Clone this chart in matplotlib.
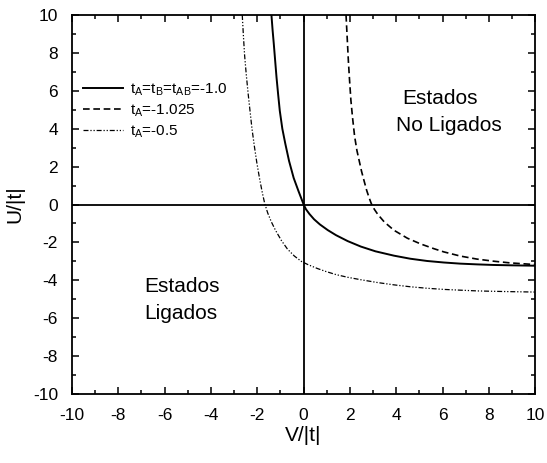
import matplotlib
matplotlib.use("Agg")
import matplotlib.pyplot as plt

plt.rcParams['font.family'] = ['Liberation Sans', 'DejaVu Sans']
plt.rcParams['mathtext.fontset'] = 'custom'
plt.rcParams['mathtext.rm'] = 'Liberation Sans'
plt.rcParams['mathtext.it'] = 'Liberation Sans'
plt.rcParams['axes.unicode_minus'] = False

# === curves ===
v_solid = [-1.39, -1.34, -1.29, -1.23, -1.17, -1.10, -1.03, -0.92, -0.79, -0.63,
           -0.43, -0.22, 0.0, 0.1, 0.25, 0.45, 0.7, 1.04, 1.4, 1.9, 2.47, 3.1,
           3.9, 4.6, 5.33, 6.05, 6.76, 7.5, 8.19, 9.0, 10.0]
u_solid = [10.0, 9.2, 8.5, 7.6, 6.7, 5.8, 4.95, 4.0, 3.2, 2.3,
           1.4, 0.7, 0.0, -0.25, -0.5, -0.78, -1.05, -1.35, -1.62, -1.93, -2.22, -2.47,
           -2.7, -2.86, -2.98, -3.06, -3.12, -3.16, -3.19, -3.21, -3.23]

v_dash = [1.83, 1.88, 1.93, 1.98, 2.04, 2.11, 2.2, 2.3, 2.4, 2.5, 2.62, 2.72,
          2.82, 2.92, 3.05, 3.2, 3.48, 3.9, 4.48, 5.05, 5.62, 6.05, 6.76, 7.48,
          8.19, 8.9, 10.0]
u_dash = [10.0, 8.8, 7.6, 6.6, 5.5, 4.6, 3.6, 2.85, 2.3, 1.75, 1.2, 0.75,
          0.38, 0.05, -0.25, -0.52, -0.92, -1.36, -1.78, -2.08, -2.33, -2.5, -2.72, -2.88,
          -2.99, -3.08, -3.17]

v_dd = [-2.65, -2.6, -2.55, -2.48, -2.4, -2.32, -2.23, -2.13, -2.02, -1.9, -1.78,
        -1.68, -1.55, -1.4, -1.22, -0.96, -0.7, -0.4, -0.1, 0.2, 0.6, 0.95, 1.4,
        1.9, 2.47, 3.2, 3.9, 4.6, 5.33, 6.05, 6.76, 7.5, 8.19, 9.0, 10.0]
u_dd = [10.0, 8.9, 7.9, 6.9, 5.9, 5.0, 4.0, 3.1, 2.2, 1.35, 0.6,
        0.05, -0.45, -0.9, -1.35, -1.9, -2.35, -2.72, -3.0, -3.18, -3.38, -3.53, -3.7,
        -3.84, -3.97, -4.12, -4.24, -4.34, -4.42, -4.48, -4.52, -4.56, -4.58, -4.6, -4.62]

labels = [r'$\mathrm{t_A}$=$\mathrm{t_B}$=$\mathrm{t_{AB}}$=-1.0',
          r'$\mathrm{t_A}$=-1.025',
          r'$\mathrm{t_A}$=-0.5']

fig = plt.figure(figsize=(5.47, 4.63), dpi=100)
ax = fig.add_axes([0.1316, 0.149, 0.847, 0.8186])

ax.plot(v_solid, u_solid, color='black', lw=1.4, label=labels[0])
ax.plot(v_dash, u_dash, color='black', lw=1.2, ls=(0, (4, 2.2)), label=labels[1])
ax.plot(v_dd, u_dd, color='black', lw=0.9, ls=(0, (4, 1.5, 1, 1.5, 1, 1.5)), label=labels[2])

ax.axhline(0, color='black', lw=1.3)
ax.axvline(0, color='black', lw=1.3)

ax.set_xlim(-10, 10)
ax.set_ylim(-10, 10)
ax.set_xticks(range(-10, 11, 2))
ax.set_yticks(range(-10, 11, 2))
ax.set_xticks(range(-9, 10, 2), minor=True)
ax.set_yticks(range(-9, 10, 2), minor=True)
ax.tick_params(which='both', direction='in', top=True, right=True, width=1.1)
ax.tick_params(which='major', length=5, labelsize=12.5, pad=10)
ax.tick_params(which='minor', length=3)
for s in ax.spines.values():
    s.set_linewidth(1.3)

ax.set_xlabel('V/|t|', fontsize=15, labelpad=2)
ax.set_ylabel('U/|t|', fontsize=15, labelpad=6)

ax.text(5.9, 5.58, 'Estados', fontsize=15, ha='center', va='center')
ax.text(6.28, 4.18, 'No Ligados', fontsize=15, ha='center', va='center')
ax.text(-5.25, -4.31, 'Estados', fontsize=15, ha='center', va='center')
ax.text(-5.29, -5.77, 'Ligados', fontsize=15, ha='center', va='center')

ax.legend(loc='upper left', bbox_to_anchor=(0.024, 0.825), frameon=False,
          fontsize=11, handlelength=2.6, handletextpad=0.5, labelspacing=0.3,
          borderpad=0, borderaxespad=0)

fig.savefig('out.png', dpi=100)
